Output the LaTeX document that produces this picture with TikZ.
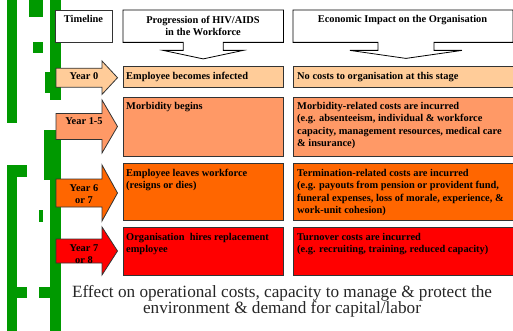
\documentclass[tikz,border=0pt]{standalone}
\usepackage{fontspec}
\setmainfont{Liberation Serif}
\usetikzlibrary{calc}

\definecolor{peach}{HTML}{FFCC99}
\definecolor{salmon}{HTML}{FF9966}
\definecolor{deeporange}{HTML}{FF6600}
\definecolor{brightred}{HTML}{FF0000}
\definecolor{stripgreen}{HTML}{009900}

\begin{document}
\begin{tikzpicture}[x=1pt,y=-1pt,
  cell/.style={draw=black!80,line width=0.9pt,anchor=north west,inner sep=0pt},
  celltext/.style={anchor=north west,align=left,inner sep=0pt,font=\fontsize{10.4}{12.4}\selectfont\bfseries},
  headline/.style={draw=black,line width=0.8pt,fill=white},
  headtext/.style={align=center,inner sep=0pt,font=\fontsize{10.4}{12}\selectfont\bfseries},
  yeararrow/.style={draw=black!80,line width=0.8pt},
  yeartext/.style={align=center,inner sep=0pt,font=\fontsize{10.4}{11.5}\selectfont\bfseries},
  captext/.style={anchor=base,inner sep=0pt,text=black!85,font=\fontsize{17.2}{13}\selectfont}]
\useasboundingbox (0,0) rectangle (513,331);

% green strip on the left
\foreach \xa/\ya/\xb/\yb in {7/0/17/123, 29/0/43/17, 33/42/43/53, 50/0/61/100, 45/72/61/93,
  44/130/61/180, 50/180/61/331, 7/165/27/177, 7/165/17/331, 7/287/27/298, 39/287/61/298, 39/210/43/222}
  \fill[stripgreen] (\xa,\ya) rectangle (\xb,\yb);

% headers
\node[cell,fill=white,minimum width=57,minimum height=32] (tl) at (55,10) {};
\node[headtext,anchor=base] (tltext) at (83.5,23) {Timeline};
\node[inner sep=0pt,minimum width=160,minimum height=32,anchor=north west] (prog) at (123,10) {};
\draw[headline] (prog.north west) -- (prog.north east) -- (prog.south east)
  -- ($(prog.south)+(20,0)$) -- ++(0,8) -- ++(20,0) -- ($(prog.south)+(0,16.5)$)
  -- ($(prog.south)+(-40,8)$) -- ++(20,0) -- ++(0,-8) -- (prog.south west) -- cycle;
\node[headtext,anchor=north] (progtext) at (203,15.9) {Progression of HIV/AIDS\\in the Workforce};
\node[inner sep=0pt,minimum width=219.5,minimum height=32,anchor=north west] (econ) at (293,10) {};
\coordinate (etip) at ($(econ.south)+(3,0)$);
\draw[headline] (econ.north west) -- (econ.north east) -- (econ.south east)
  -- ($(etip)+(28,0)$) -- ++(0,8) -- ++(28,0) -- ($(etip)+(0,16)$)
  -- ($(etip)+(-56,8)$) -- ++(28,0) -- ++(0,-8) -- (econ.south west) -- cycle;
\node[headtext,anchor=base] (econtext) at (402.5,23) {Economic Impact on the Organisation};

% timeline arrows
\foreach \cy/\bh/\hh/\col in {77.7/9.5/16.7/peach, 126.5/13/26.5/salmon, 193/14/28/deeporange, 251/12/24/brightred}
  \filldraw[yeararrow,fill=\col] (56,\cy-\bh) -- (102,\cy-\bh) -- (102,\cy-\hh) -- (117.5,\cy)
    -- (102,\cy+\hh) -- (102,\cy+\bh) -- (56,\cy+\bh) -- cycle;
\node[yeartext] (y0) at (84,75.8) {Year 0};
\node[yeartext] (y1) at (84,121.5) {Year 1-5};
\node[yeartext] (y2) at (84,194) {Year 6\\or 7};
\node[yeartext] (y3) at (84,254) {Year 7\\or 8};

% progression column
\node[cell,fill=peach,minimum width=160,minimum height=21] (p0) at (123,66) {};
\node[cell,fill=salmon,minimum width=160,minimum height=59] (p1) at (123,97) {};
\node[cell,fill=deeporange,minimum width=160,minimum height=57] (p2) at (123,163) {};
\node[cell,fill=brightred,minimum width=160,minimum height=48] (p3) at (123,227) {};
\node[celltext,anchor=west] (p0text) at ($(p0.west)+(3,0)$) {Employee becomes infected};
\node[celltext] (p1text) at ($(p1.north west)+(3,4.6)$) {Morbidity begins};
\node[celltext] (p2text) at ($(p2.north west)+(3,5.8)$) {Employee leaves workforce\\(resigns or dies)};
\node[celltext] (p3text) at ($(p3.north west)+(3,5.8)$) {Organisation~ hires replacement\\employee};

% impact column
\node[cell,fill=peach,minimum width=219.5,minimum height=21] (e0) at (293,66) {};
\node[cell,fill=salmon,minimum width=219.5,minimum height=59] (e1) at (293,97) {};
\node[cell,fill=deeporange,minimum width=219.5,minimum height=57] (e2) at (293,163) {};
\node[cell,fill=brightred,minimum width=219.5,minimum height=48] (e3) at (293,227) {};
\node[celltext,anchor=west] (e0text) at ($(e0.west)+(4,0)$) {No costs to organisation at this stage};
\node[celltext] (e1text) at ($(e1.north west)+(4,5)$) {Morbidity-related costs are incurred\\(e.g. absenteeism, individual \& workforce\\capacity, management resources, medical care\\\& insurance)};
\node[celltext] (e2text) at ($(e2.north west)+(4,5.8)$) {Termination-related costs are incurred\\(e.g. payouts from pension or provident fund,\\funeral expenses, loss of morale, experience, \&\\work-unit cohesion)};
\node[celltext] (e3text) at ($(e3.north west)+(4,5.8)$) {Turnover costs are incurred\\(e.g. recruiting, training, reduced capacity)};

% caption
\node[captext] (cap1) at (282,297.5) {Effect on operational costs, capacity to manage \& protect the};
\node[captext] (cap2) at (282,313.5) {environment \& demand for capital/labor};
\end{tikzpicture}
\end{document}
